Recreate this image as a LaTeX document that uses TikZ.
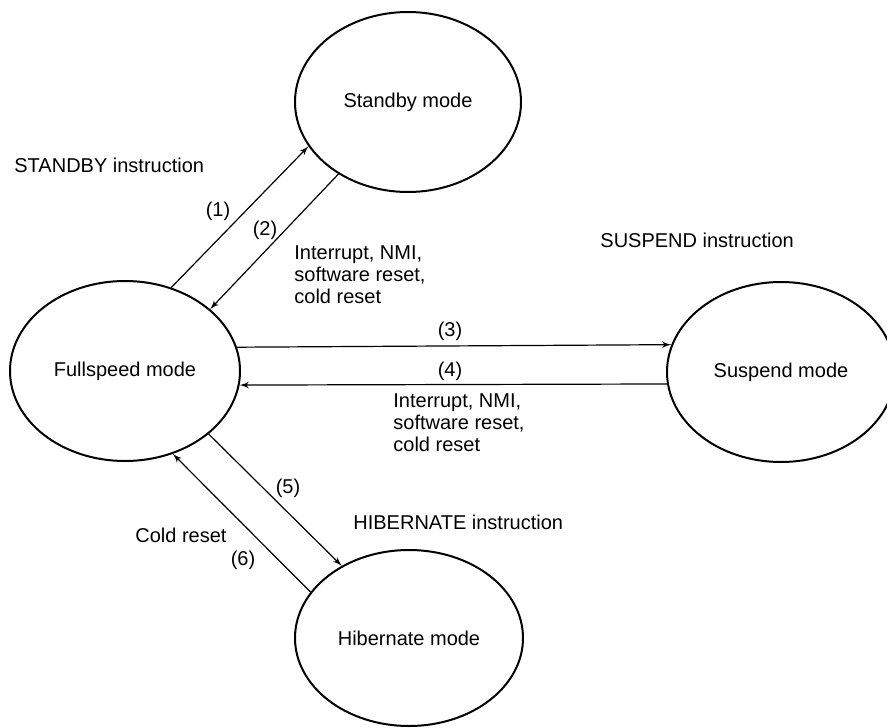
\documentclass[tikz,border=0pt]{standalone}
\usepackage{fontspec}
\setmainfont{Liberation Sans}
\tikzstyle{mode}=[draw, ellipse, line width=1pt, inner sep=0pt]
\tikzstyle{arrow}=[->,>=latex',line width=0.6pt]
\tikzstyle{lbl}=[inner sep=1pt, align=left, font=\fontsize{10}{11}\selectfont]
\usetikzlibrary{shapes.geometric,arrows,positioning}

\begin{document}
\begin{tikzpicture}[x=0.5pt,y=-0.5pt,font=\fontsize{10}{11}\selectfont]
\useasboundingbox (0,0) rectangle (887,727);
\node (full) [mode,minimum width=115pt,minimum height=90pt] at (125,371) {Fullspeed mode};
\node (stby) [mode,minimum width=113pt,minimum height=90pt] at (408,102) {Standby mode};
\node (susp) [mode,minimum width=114pt,minimum height=90pt] at (781,372) {Suspend mode};
\node (hib) [mode,minimum width=114pt,minimum height=88pt] at (409,638) {Hibernate mode};

\node (stbyi) [lbl,anchor=west] at (12,165) {STANDBY instruction};
\node (suspi) [lbl,anchor=west] at (598,240) {SUSPEND instruction};
\node (hibi) [lbl,anchor=west] at (351,522) {HIBERNATE instruction};
\node (int1) [lbl,anchor=west] at (292,275) {Interrupt, NMI,\\software reset,\\cold reset};
\node (int2) [lbl,anchor=west] at (391,423) {Interrupt, NMI,\\software reset,\\cold reset};
\node (cold) [lbl] at (181,535) {Cold reset};

\node (n1) [lbl] at (218,211) {(1)};
\node (n2) [lbl] at (265,230) {(2)};
\node (n3) [lbl] at (450,331) {(3)};
\node (n4) [lbl] at (450,371) {(4)};
\node (n5) [lbl] at (288,488) {(5)};
\node (n6) [lbl] at (243,560) {(6)};

\draw[arrow] (full.61) -- (stby.204);
\draw[arrow] (stby.226) -- (full.36);
\draw[arrow] (full.12.75) -- (susp.166.6);
\draw[arrow] (susp.186.6) -- (full.-7);
\draw[arrow] (full.-37.4) -- (hib.133);
\draw[arrow] (hib.155.5) -- (full.-60.4);
\end{tikzpicture}
\end{document}
